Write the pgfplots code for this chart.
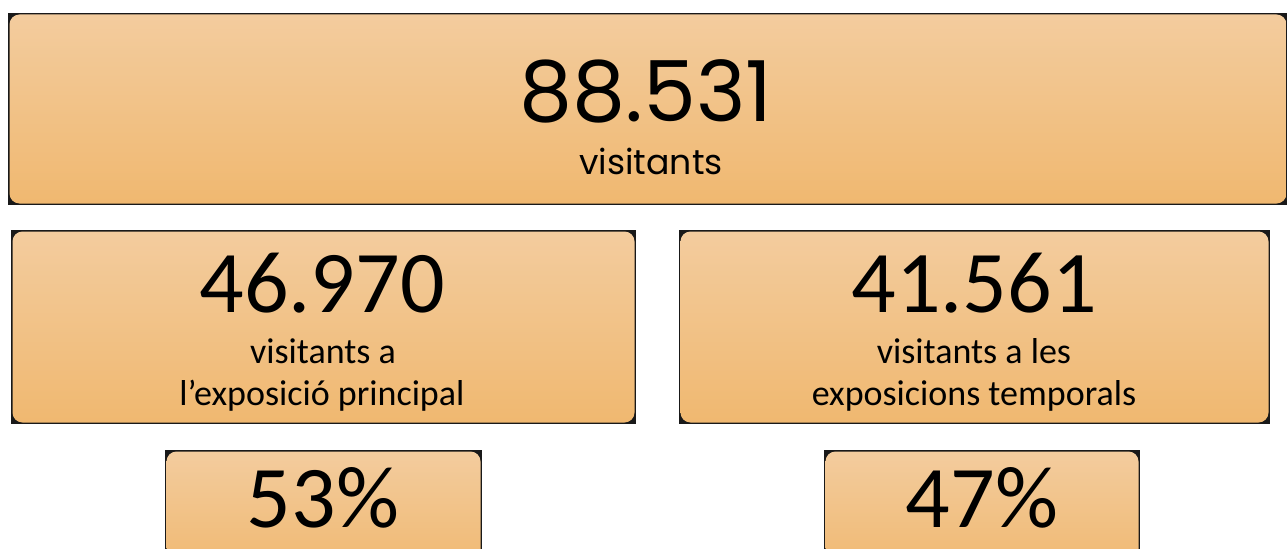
\documentclass[border=0pt]{standalone}
\usepackage{pgfplots}
\pgfplotsset{compat=1.18}
\usepackage{fontspec}
\setmainfont{Carlito}
\newfontfamily\gothic{Poppins}
\definecolor{boxtop}{RGB}{243,204,158}
\definecolor{boxbot}{RGB}{240,184,112}

% one panel: dark backing rectangle, gradient rounded box on top
\newcommand{\panel}[4]{%
  \fill[black!90] (axis cs:#1,#2) rectangle (axis cs:#3,#4);
  \shade[top color=boxtop,bottom color=boxbot,rounded corners=7.5pt]
    (axis cs:#1+1.5,#2+1.5) rectangle (axis cs:#3-1.5,#4-1.5);}

\begin{document}
\begin{tikzpicture}
\begin{axis}[scale only axis,width=965.25pt,height=411.75pt,
 xmin=0,xmax=1287,ymin=0,ymax=549,y dir=reverse,hide axis,clip=true,
 point meta=explicit symbolic,
 nodes near coords,nodes near coords align={anchor=base},
 every node near coord/.append style={inner sep=0pt,text=black}]
\panel{8}{13}{1288}{205}
\panel{11}{230}{636}{424}
\panel{679}{230}{1270}{424}
\panel{165}{450}{482}{575}
\panel{824}{450}{1140}{575}
% total
\addplot[draw=none,mark=none,every node near coord/.append style={font=\gothic\fontsize{63}{63}\selectfont}]
 coordinates {(646,122) [88.531]};
\addplot[draw=none,mark=none,every node near coord/.append style={font=\gothic\fontsize{26}{26}\selectfont}]
 coordinates {(651,175) [visitants]};
% split
\addplot[draw=none,mark=none,every node near coord/.append style={font=\fontsize{66}{66}\selectfont}]
 coordinates {(322,312) [46.970] (974,312) [41.561] (323,527) [53\%] (982,527) [47\%]};
\addplot[draw=none,mark=none,every node near coord/.append style={font=\fontsize{27}{27}\selectfont}]
 coordinates {(323,363) [visitants a] (322,405) [l’exposició principal]
  (974,363) [visitants a les] (974,405) [exposicions temporals]};
\end{axis}
\path (current axis.south west) rectangle (current axis.north east);
\end{tikzpicture}
\end{document}
